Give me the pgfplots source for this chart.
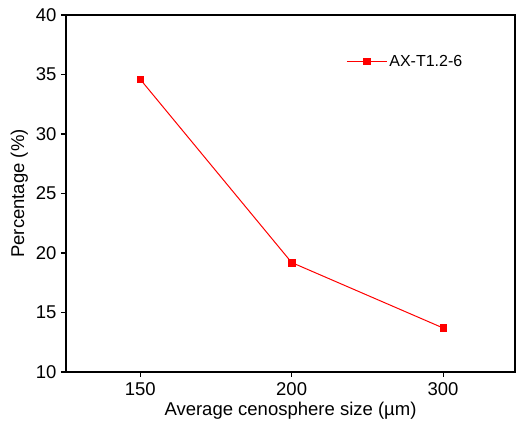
\documentclass[border=0pt]{standalone}
\usepackage{pgfplots}
\pgfplotsset{compat=1.18}
\usepackage{fontspec}
\setmainfont{Liberation Sans}
\begin{document}
\begin{tikzpicture}
\begin{axis}[
  name=ax,
  scale only axis,
  width=449pt, height=357pt,
  xmin=-0.49, xmax=2.475,
  ymin=10, ymax=40,
  xtick={0,1,2},
  xticklabels={150,200,300},
  ytick={10,15,20,25,30,35,40},
  tick align=outside,
  tick pos=left,
  major tick length=5pt,
  minor tick num=0,
  axis line style={line width=1.3pt},
  every tick/.style={black, line width=1.1pt},
  /pgf/number format/assume math mode=true,
  tick label style={font=\fontsize{18.5}{22}\selectfont},
  xticklabel style={yshift=-2pt},
  yticklabel style={xshift=-1pt},
  label style={font=\fontsize{18.5}{22}\selectfont},
  xlabel={Average cenosphere size (µm)},
  ylabel={Percentage (\%)},
  xlabel style={yshift=0pt},
  ylabel style={yshift=1pt},
  legend style={draw=none, fill=none, at={(0.624,0.90)}, anchor=north west,
    font=\fontsize{16}{19}\selectfont, inner xsep=0pt},
  legend cell align=left,
  legend image code/.code={
    \draw[#1, mark repeat=2, mark phase=2] plot coordinates {(-3pt,0pt) (17pt,0pt) (37pt,0pt)};
  },
]
\addplot[red, line width=1pt, mark=square*, mark size=3.3pt, mark options={fill=red, draw=red, line width=0.4pt}]
  coordinates {(0,34.6) (1,19.2) (2,13.7)};
\addlegendentry{AX-T1.2-6}
\end{axis}
\path ([xshift=-66pt,yshift=15pt]ax.north west) rectangle ([xshift=1pt,yshift=-49pt]ax.south east);
\end{tikzpicture}
\end{document}
